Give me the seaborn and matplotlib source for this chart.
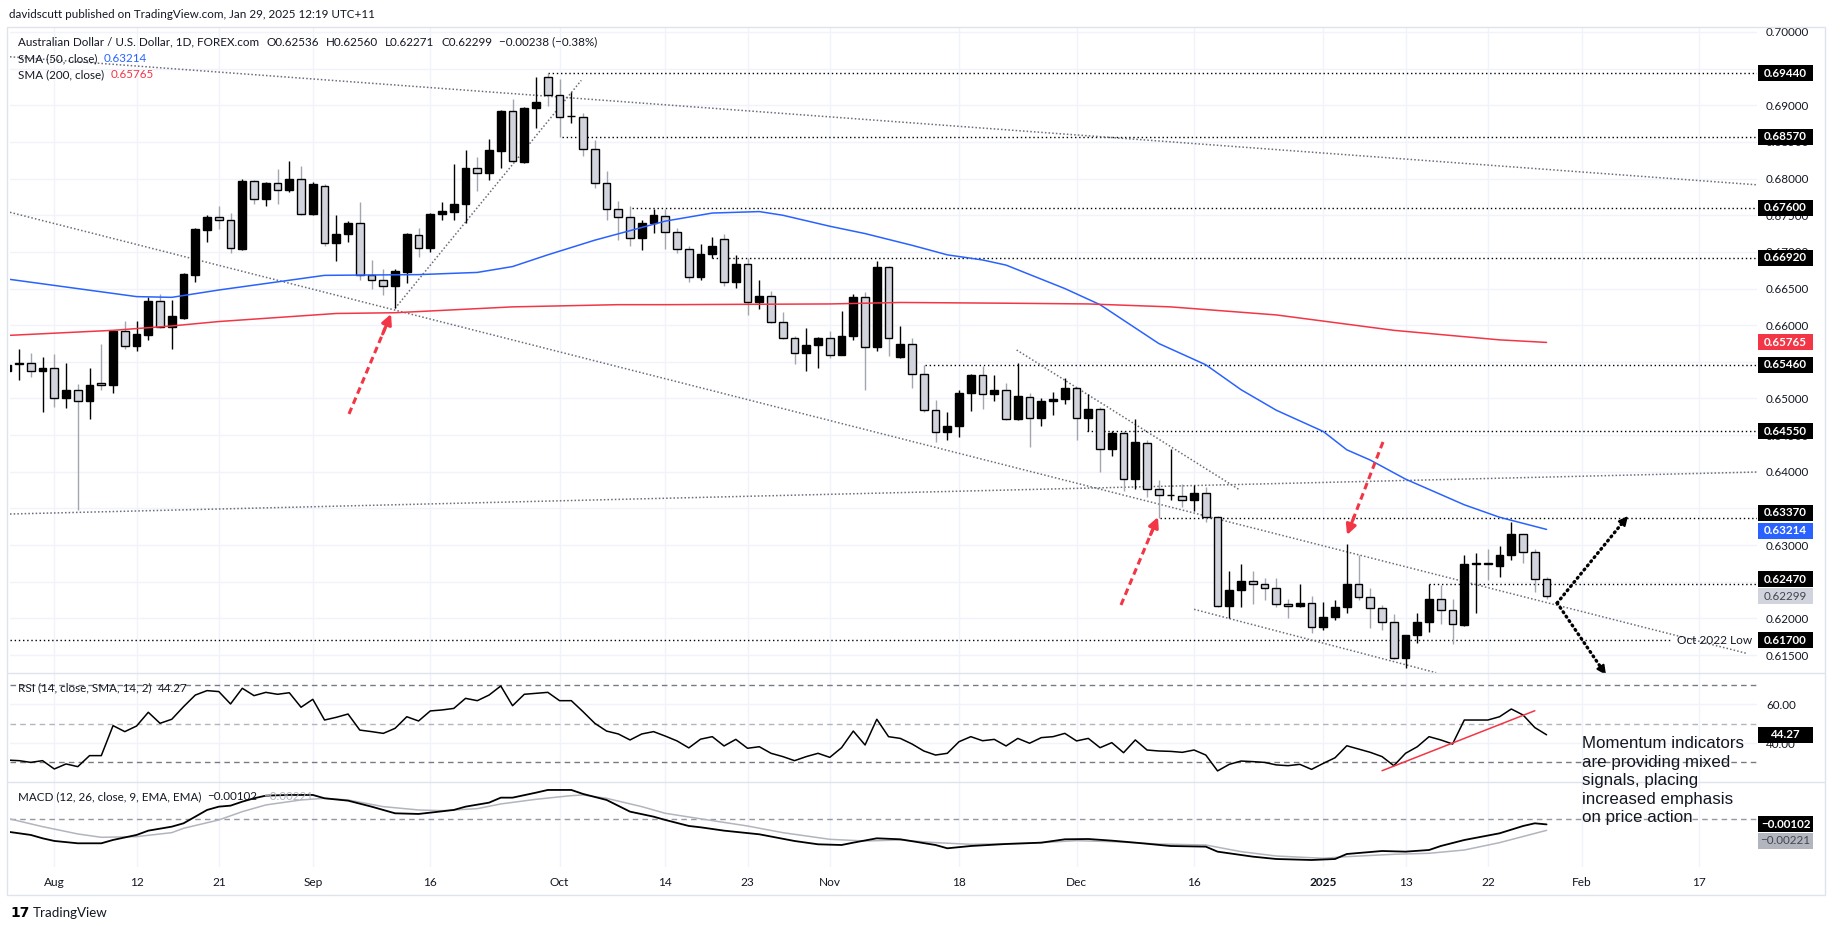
import numpy as np
import pandas as pd
import matplotlib
matplotlib.use("Agg")
import matplotlib.pyplot as plt
import seaborn as sns
from matplotlib.patches import Rectangle
from matplotlib.lines import Line2D
from matplotlib.ticker import FormatStrFormatter

# ---------------- data ----------------
first_day, last_day, axis_end = "2024-07-26", "2025-01-29", "2025-03-07"
holidays = ["2024-12-25", "2025-01-01"]

opens = [
    0.6537, 0.6547, 0.6548, 0.6537, 0.6541, 0.6500, 0.6511, 0.6496, 0.6521, 0.6518,
    0.6592, 0.6571, 0.6587, 0.6633, 0.6597, 0.6610, 0.6668, 0.6730, 0.6747, 0.6743,
    0.6704, 0.6797, 0.6772, 0.6794, 0.6785, 0.6799, 0.6752, 0.6790, 0.6712, 0.6724,
    0.6740, 0.6669, 0.6662, 0.6653, 0.6673, 0.6723, 0.6705, 0.6752, 0.6754, 0.6765,
    0.6815, 0.6807, 0.6838, 0.6892, 0.6823, 0.6896, 0.6938, 0.6914, 0.6885, 0.6884,
    0.6840, 0.6794, 0.6758, 0.6747, 0.6719, 0.6740, 0.6749, 0.6727, 0.6704, 0.6666,
    0.6697, 0.6718, 0.6659, 0.6683, 0.6632, 0.6640, 0.6604, 0.6582, 0.6562, 0.6573,
    0.6582, 0.6559, 0.6585, 0.6638, 0.6570, 0.6680, 0.6557, 0.6574, 0.6533, 0.6484,
    0.6454, 0.6462, 0.6508, 0.6532, 0.6506, 0.6512, 0.6472, 0.6502, 0.6474, 0.6497,
    0.6499, 0.6514, 0.6474, 0.6486, 0.6431, 0.6453, 0.6390, 0.6439, 0.6377, 0.6368,
    0.6367, 0.6362, 0.6371, 0.6338, 0.6217, 0.6239, 0.6251, 0.6247, 0.6241, 0.6220,
    0.6217, 0.6221, 0.6188, 0.6202, 0.6215, 0.6247, 0.6229, 0.6214, 0.6195, 0.6146,
    0.6177, 0.6195, 0.6226, 0.6212, 0.6191, 0.6274, 0.6275, 0.6272, 0.6286, 0.6315,
    0.6291, 0.62536]
highs = [
    0.6552, 0.6568, 0.6562, 0.6556, 0.6561, 0.6548, 0.6520, 0.6541, 0.6575, 0.6594,
    0.6606, 0.6606, 0.6639, 0.6642, 0.6634, 0.6671, 0.6733, 0.6750, 0.6762, 0.6753,
    0.6799, 0.6798, 0.6796, 0.6813, 0.6824, 0.6817, 0.6796, 0.6793, 0.6750, 0.6742,
    0.6768, 0.6689, 0.6676, 0.6676, 0.6726, 0.6733, 0.6753, 0.6768, 0.6820, 0.6839,
    0.6829, 0.6854, 0.6894, 0.6908, 0.6897, 0.6939, 0.6944, 0.6936, 0.6918, 0.6889,
    0.6853, 0.6810, 0.6769, 0.6762, 0.6744, 0.6759, 0.6759, 0.6732, 0.6708, 0.6711,
    0.6720, 0.6724, 0.6696, 0.6691, 0.6662, 0.6647, 0.6618, 0.6585, 0.6596, 0.6584,
    0.6592, 0.6620, 0.6642, 0.6645, 0.6688, 0.6681, 0.6599, 0.6583, 0.6546, 0.6498,
    0.6481, 0.6512, 0.6534, 0.6545, 0.6532, 0.6521, 0.6549, 0.6508, 0.6500, 0.6509,
    0.6528, 0.6516, 0.6506, 0.6488, 0.6455, 0.6455, 0.6472, 0.6443, 0.6389, 0.6431,
    0.6384, 0.6382, 0.6379, 0.6340, 0.6264, 0.6274, 0.6265, 0.6255, 0.6255, 0.6227,
    0.6247, 0.6231, 0.6223, 0.6225, 0.6301, 0.6287, 0.6241, 0.6218, 0.6206, 0.6177,
    0.6207, 0.6247, 0.6246, 0.6226, 0.6286, 0.6289, 0.6295, 0.6299, 0.6331, 0.6315,
    0.6294, 0.62560]
lows = [
    0.6530, 0.6525, 0.6530, 0.6481, 0.6489, 0.6487, 0.6348, 0.6472, 0.6512, 0.6508,
    0.6568, 0.6565, 0.6580, 0.6596, 0.6568, 0.6608, 0.6659, 0.6714, 0.6731, 0.6698,
    0.6702, 0.6766, 0.6763, 0.6766, 0.6782, 0.6751, 0.6750, 0.6708, 0.6687, 0.6714,
    0.6661, 0.6649, 0.6641, 0.6623, 0.6658, 0.6693, 0.6700, 0.6744, 0.6743, 0.6739,
    0.6783, 0.6798, 0.6815, 0.6822, 0.6821, 0.6869, 0.6899, 0.6857, 0.6876, 0.6831,
    0.6787, 0.6744, 0.6716, 0.6708, 0.6702, 0.6726, 0.6704, 0.6699, 0.6659, 0.6661,
    0.6691, 0.6654, 0.6651, 0.6614, 0.6622, 0.6603, 0.6581, 0.6547, 0.6538, 0.6541,
    0.6555, 0.6559, 0.6580, 0.6512, 0.6565, 0.6558, 0.6555, 0.6515, 0.6481, 0.6441,
    0.6444, 0.6448, 0.6483, 0.6485, 0.6497, 0.6471, 0.6471, 0.6434, 0.6462, 0.6478,
    0.6492, 0.6443, 0.6455, 0.6400, 0.6422, 0.6374, 0.6377, 0.6366, 0.6337, 0.6362,
    0.6352, 0.6346, 0.6332, 0.6215, 0.6200, 0.6215, 0.6220, 0.6225, 0.6216, 0.6201,
    0.6216, 0.6180, 0.6184, 0.6198, 0.6208, 0.6225, 0.6187, 0.6184, 0.6144, 0.6132,
    0.6166, 0.6182, 0.6192, 0.6165, 0.6190, 0.6208, 0.6252, 0.6256, 0.6279, 0.6275,
    0.6236, 0.62271]
closes = [
    0.6546, 0.6549, 0.6537, 0.6541, 0.6500, 0.6511, 0.6497, 0.6519, 0.6519, 0.6592,
    0.6571, 0.6588, 0.6633, 0.6597, 0.6612, 0.6670, 0.6731, 0.6747, 0.6743, 0.6705,
    0.6797, 0.6772, 0.6794, 0.6785, 0.6799, 0.6752, 0.6793, 0.6712, 0.6724, 0.6740,
    0.6669, 0.6662, 0.6653, 0.6674, 0.6724, 0.6705, 0.6752, 0.6756, 0.6765, 0.6815,
    0.6807, 0.6839, 0.6892, 0.6824, 0.6896, 0.6904, 0.6914, 0.6884, 0.6886, 0.6840,
    0.6794, 0.6758, 0.6747, 0.6719, 0.6740, 0.6750, 0.6727, 0.6704, 0.6666, 0.6697,
    0.6708, 0.6659, 0.6683, 0.6632, 0.6640, 0.6604, 0.6582, 0.6562, 0.6573, 0.6582,
    0.6559, 0.6585, 0.6638, 0.6570, 0.6680, 0.6583, 0.6574, 0.6533, 0.6484, 0.6454,
    0.6463, 0.6508, 0.6532, 0.6506, 0.6512, 0.6472, 0.6503, 0.6474, 0.6497, 0.6499,
    0.6514, 0.6474, 0.6486, 0.6431, 0.6453, 0.6390, 0.6440, 0.6377, 0.6368, 0.6369,
    0.6362, 0.6371, 0.6338, 0.6217, 0.6239, 0.6251, 0.6247, 0.6241, 0.6220, 0.6217,
    0.6221, 0.6188, 0.6202, 0.6215, 0.6247, 0.6229, 0.6214, 0.6195, 0.6146, 0.6177,
    0.6195, 0.6226, 0.6212, 0.6192, 0.6274, 0.6275, 0.6274, 0.6286, 0.6315, 0.6291,
    0.6254, 0.62299]

rsi = [
    31.2, 30.9, 30.0, 30.9, 26.6, 29.2, 27.8, 33.5, 33.5, 49.0,
    45.9, 48.8, 55.9, 50.2, 52.3, 58.8, 64.8, 67.1, 66.6, 60.2,
    68.3, 64.5, 66.2, 65.2, 66.0, 58.5, 62.6, 51.9, 53.3, 55.0,
    46.7, 45.9, 45.0, 47.6, 53.6, 51.4, 56.6, 57.1, 57.9, 63.1,
    61.9, 64.8, 69.5, 59.3, 65.2, 65.7, 66.2, 61.9, 61.9, 56.2,
    50.2, 46.2, 44.7, 41.6, 44.7, 45.9, 43.6, 41.1, 37.5, 42.0,
    43.3, 38.5, 41.9, 37.3, 38.1, 34.7, 33.0, 30.9, 33.0, 34.7,
    32.6, 37.6, 46.2, 39.0, 52.3, 43.3, 42.4, 39.5, 35.9, 33.8,
    34.7, 40.7, 43.3, 41.2, 41.9, 38.5, 42.4, 39.9, 42.8, 43.3,
    45.0, 41.1, 42.4, 37.6, 40.2, 35.0, 41.6, 36.4, 35.9, 35.7,
    35.2, 36.4, 33.8, 25.6, 29.0, 30.7, 30.4, 30.0, 28.7, 28.3,
    29.0, 26.4, 29.5, 32.4, 38.6, 36.9, 35.2, 33.0, 28.3, 34.7,
    38.1, 43.3, 41.6, 39.5, 51.9, 51.9, 51.9, 53.6, 57.6, 54.5,
    48.0, 44.27]

sma50_bar = [0, 11, 14, 18, 27, 35, 40, 43, 46, 50, 56, 60, 64, 66, 70, 73, 77, 80, 83,
             85, 90, 93, 98, 102, 105, 108, 112, 114, 116, 119, 124, 127, 131]
sma50_val = [0.6663, 0.6639, 0.6638, 0.6648, 0.6668, 0.6669, 0.6672, 0.6680, 0.6696,
             0.6716, 0.6742, 0.6753, 0.6755, 0.6750, 0.6735, 0.6725, 0.6709, 0.6696,
             0.6689, 0.6682, 0.6650, 0.6628, 0.6575, 0.6546, 0.6512, 0.6484, 0.6455,
             0.6430, 0.6416, 0.6390, 0.6355, 0.6338, 0.63214]
sma200_bar = [0, 9, 14, 18, 28, 33, 43, 52, 56, 70, 76, 85, 92, 99, 108, 118, 127, 131]
sma200_val = [0.6586, 0.6593, 0.6599, 0.6605, 0.6616, 0.6617, 0.6625, 0.6628, 0.6628,
              0.6629, 0.6631, 0.6630, 0.6629, 0.6625, 0.6614, 0.6593, 0.6580, 0.65765]

macd_bar = [0, 2, 3, 4, 6, 8, 9, 11, 12, 14, 15, 16, 17, 18, 19, 20, 21, 22, 24, 26, 27,
            29, 31, 33, 35, 36, 38, 39, 41, 42, 43, 45, 46, 48, 49, 51, 53, 55, 56, 58,
            59, 61, 64, 67, 69, 71, 72, 74, 76, 79, 80, 82, 85, 88, 90, 92, 94, 96, 99,
            102, 103, 106, 108, 111, 113, 114, 117, 119, 121, 122, 124, 127, 129, 130, 131]
macd_val = [-0.00247, -0.00313, -0.00380, -0.00433, -0.00480, -0.00480, -0.00413,
            -0.00313, -0.00227, -0.00147, -0.00080, 0.00053, 0.00187, 0.00253, 0.00273,
            0.00353, 0.00420, 0.00473, 0.00487, 0.00487, 0.00420, 0.00373, 0.00253,
            0.00120, 0.00107, 0.00133, 0.00187, 0.00253, 0.00333, 0.00433, 0.00433,
            0.00533, 0.00587, 0.00587, 0.00507, 0.00387, 0.00153, 0.00053, -0.00013,
            -0.00133, -0.00160, -0.00227, -0.00300, -0.00434, -0.00500, -0.00514,
            -0.00467, -0.00380, -0.00400, -0.00514, -0.00580, -0.00534, -0.00494,
            -0.00467, -0.00400, -0.00394, -0.00427, -0.00467, -0.00534, -0.00547,
            -0.00647, -0.00747, -0.00794, -0.00814, -0.00794, -0.00694, -0.00634,
            -0.00647, -0.00614, -0.00534, -0.00414, -0.00280, -0.00134, -0.00080, -0.00102]
signal_bar = [0, 3, 6, 8, 11, 14, 15, 18, 20, 22, 25, 27, 29, 32, 35, 37, 40, 42, 45, 48,
              49, 51, 54, 56, 59, 63, 66, 70, 73, 76, 79, 82, 87, 91, 94, 98, 102, 105,
              108, 112, 114, 118, 121, 124, 127, 131]
signal_val = [0.00020, -0.00147, -0.00293, -0.00360, -0.00347, -0.00267, -0.00180,
              -0.00013, 0.00153, 0.00287, 0.00387, 0.00420, 0.00387, 0.00253, 0.00187,
              0.00173, 0.00213, 0.00307, 0.00400, 0.00473, 0.00487, 0.00420, 0.00253,
              0.00120, 0.00010, -0.00134, -0.00267, -0.00400, -0.00434, -0.00414,
              -0.00467, -0.00500, -0.00480, -0.00427, -0.00447, -0.00494, -0.00514,
              -0.00647, -0.00734, -0.00780, -0.00747, -0.00700, -0.00680, -0.00614,
              -0.00467, -0.00221]

tick_dates = ["2024-08-01", "2024-08-12", "2024-08-21", "2024-09-02", "2024-09-16",
              "2024-10-01", "2024-10-14", "2024-10-23", "2024-11-01", "2024-11-18",
              "2024-12-02", "2024-12-16", "2025-01-02", "2025-01-13", "2025-01-22",
              "2025-02-03", "2025-02-17"]
tick_labels = ["Aug", "12", "21", "Sep", "16", "Oct", "14", "23", "Nov", "18", "Dec",
               "16", "2025", "13", "22", "Feb", "17"]

# horizontal levels drawn on the chart (price, first bar, last bar)
level_price = [0.6944, 0.6857, 0.6760, 0.6692, 0.6546, 0.6455, 0.6337, 0.6247, 0.6170]
level_from = [46.0, 47.2, 53.2, 60.0, 78.1, 91.9, 98.1, 121.0, 0.23]
level_to = [148.91] * 8 + [141.5]

# trend lines (bar0, price0, bar1, price1)
trend_lines = [
    (0.23, 0.69662, 148.91, 0.67915),
    (0.23, 0.67540, 148.0, 0.61524),
    (33.0, 0.6623, 48.85, 0.6934),
    (85.9, 0.65662, 104.8, 0.63761),
    (0.23, 0.63424, 148.91, 0.63997),
    (101.0, 0.62124, 121.6, 0.61259),
]
# red dashed arrows (tail bar, tail price, tip bar, tip price)
red_arrows = [
    (29.08, 0.64789, 32.66, 0.66153),
    (94.78, 0.62183, 97.93, 0.63383),
    (117.08, 0.64407, 114.02, 0.63138),
]
# black dotted scenario arrows
black_arrows = [
    (131.9, 0.62210, 137.93, 0.63397),
    (131.9, 0.62210, 136.06, 0.61228),
]
rsi_trend = (117.0, 25.7, 130.0, 56.7)

# ---------------- style ----------------
sns.set_theme(style="white")
plt.rcParams["font.family"] = ["Lato", "DejaVu Sans"]
plt.rcParams["axes.facecolor"] = "white"

TXT = "#131722"
GRID = "#f0f3fa"
BORDER = "#e0e3eb"
UP_FILL, DN_FILL = "#000000", "#d1d4dc"
DN_WICK = "#a3a6af"
BLUE, RED, GREY = "#2962ff", "#f23645", "#b2b5be"

W, H = 1835, 931
fig = plt.figure(figsize=(W / 100, H / 100), dpi=100, facecolor="white")


def fx(px):
    return px / W


def fy(py):
    return 1 - py / H


L, R = 10, 1757
ax_p = fig.add_axes([fx(L), fy(673), (R - L) / W, (673 - 27) / H])
ax_r = fig.add_axes([fx(L), fy(782), (R - L) / W, (782 - 673) / H], sharex=ax_p)
ax_m = fig.add_axes([fx(L), fy(867), (R - L) / W, (867 - 782) / H], sharex=ax_p)

cal = pd.bdate_range(first_day, axis_end)
cal = cal[~cal.isin(pd.to_datetime(holidays))]
pos = {d: i for i, d in enumerate(cal)}
n = pos[pd.Timestamp(last_day)] + 1
x = np.arange(n)
tick_pos = [pos[pd.Timestamp(d)] for d in tick_dates]

o = np.array(opens); h = np.array(highs); l = np.array(lows); c = np.array(closes)
assert len(o) == n and len(h) == n and len(l) == n and len(c) == n and len(rsi) == n

for ax in (ax_p, ax_r, ax_m):
    for s in ax.spines.values():
        s.set_visible(False)
    ax.set_xlim(0.23, 148.91)
    for t in tick_pos:
        ax.axvline(t, color=GRID, lw=1.0, zorder=0)
    ax.tick_params(axis="both", length=0)
    ax.yaxis.tick_right()
    ax.tick_params(axis="y", pad=6.5, labelsize=8.4, labelcolor=TXT)

# ---------------- price pane ----------------
ax_p.set_ylim(0.612551, 0.700682)
price_ticks = np.arange(0.615, 0.7001, 0.005)
ax_p.set_yticks(price_ticks)
ax_p.yaxis.set_major_formatter(FormatStrFormatter("%.5f"))
for p in price_ticks:
    ax_p.axhline(p, color=GRID, lw=1.0, zorder=0)
ax_p.tick_params(axis="x", labelbottom=False)

up = c >= o
bot = np.minimum(o, c)
top = np.maximum(o, c)
hgt = np.maximum(top - bot, 0.00002)
ax_p.vlines(x[up], np.minimum(l, bot)[up], np.maximum(h, top)[up], color="#000000", lw=1.0, zorder=3)
ax_p.vlines(x[~up], np.minimum(l, bot)[~up], np.maximum(h, top)[~up], color=DN_WICK, lw=1.0, zorder=3)
ax_p.bar(x, hgt, bottom=bot, width=0.66, color=np.where(up, UP_FILL, DN_FILL),
         edgecolor="#000000", linewidth=1.0, zorder=4)

sns.lineplot(x=sma50_bar, y=sma50_val, ax=ax_p, color=BLUE, lw=1.1, zorder=5, legend=False)
sns.lineplot(x=sma200_bar, y=sma200_val, ax=ax_p, color=RED, lw=1.1, zorder=5, legend=False)
ax_p.set_xlabel(""); ax_p.set_ylabel("")

for p, a, b in zip(level_price, level_from, level_to):
    ax_p.plot([a, b], [p, p], color="#000000", lw=1.0, ls=(0, (1, 2)), zorder=2)

for (a0, p0, a1, p1) in trend_lines:
    ax_p.plot([a0, a1], [p0, p1], color="#6a6d78", lw=1.1, ls=(0, (1, 1.4)), zorder=2)

for (a0, p0, a1, p1) in red_arrows:
    fr = 0.86
    ax_p.plot([a0, a0 + (a1 - a0) * fr], [p0, p0 + (p1 - p0) * fr], color=RED, lw=2.2,
              ls=(0, (2.2, 1.4)), zorder=6, solid_capstyle="butt")
    ax_p.annotate("", xy=(a1, p1), xytext=(a0 + (a1 - a0) * 0.8, p0 + (p1 - p0) * 0.8),
                  arrowprops=dict(arrowstyle="-|>,head_length=0.5,head_width=0.25",
                                  color=RED, lw=2.2, shrinkA=0, shrinkB=0), zorder=6)

for (a0, p0, a1, p1) in black_arrows:
    ax_p.plot([a0, a0 + (a1 - a0) * 0.93], [p0, p0 + (p1 - p0) * 0.93], color="#000000",
              lw=2.4, ls=(0, (0.3, 1.3)), dash_capstyle="round", zorder=6, clip_on=False)
    ax_p.annotate("", xy=(a1, p1), xytext=(a0 + (a1 - a0) * 0.9, p0 + (p1 - p0) * 0.9),
                  arrowprops=dict(arrowstyle="-|>,head_length=0.45,head_width=0.22",
                                  color="#000000", lw=1.5, shrinkA=0, shrinkB=0),
                  zorder=6, annotation_clip=False)

# ---------------- RSI pane ----------------
ax_r.set_ylim(19.87, 76.2)
ax_r.set_yticks([40, 60])
ax_r.set_yticklabels(["40.00", "60.00"])
ax_r.tick_params(axis="x", labelbottom=False)
for v in (40, 60):
    ax_r.axhline(v, color=GRID, lw=1.0, zorder=0)
ax_r.axhline(70, color="#787b86", lw=1.0, ls=(0, (4, 3)), zorder=1)
ax_r.axhline(50, color="#b2b5be", lw=1.0, ls=(0, (4, 3)), zorder=1)
ax_r.axhline(30, color="#787b86", lw=1.0, ls=(0, (4, 3)), zorder=1)
sns.lineplot(x=x, y=rsi, ax=ax_r, color="#000000", lw=1.1, zorder=3, legend=False)
ax_r.plot([rsi_trend[0], rsi_trend[2]], [rsi_trend[1], rsi_trend[3]], color=RED, lw=1.1, zorder=4)
ax_r.set_xlabel(""); ax_r.set_ylabel("")

# ---------------- MACD pane ----------------
ax_m.set_ylim(-0.00954, 0.00746)
ax_m.set_yticks([0.0])
ax_m.set_yticklabels(["0.00000"])
ax_m.axhline(0, color="#9598a1", lw=1.0, ls=(0, (4, 3)), zorder=1)
sns.lineplot(x=signal_bar, y=signal_val, ax=ax_m, color=GREY, lw=1.1, zorder=3, legend=False)
sns.lineplot(x=macd_bar, y=macd_val, ax=ax_m, color="#000000", lw=1.3, zorder=4, legend=False)
ax_m.set_xlabel(""); ax_m.set_ylabel("")
ax_m.set_xticks(tick_pos)
ax_m.set_xticklabels(tick_labels)
ax_m.tick_params(axis="x", pad=7.5, labelsize=8.6, labelcolor=TXT)
for lab in ax_m.get_xticklabels():
    if lab.get_text() == "2025":
        lab.set_fontweight("bold")

# ---------------- frame & separators ----------------
fig.add_artist(Rectangle((fx(7), fy(895)), (1825 - 7) / W, (895 - 27) / H,
                         transform=fig.transFigure, fill=False, ec=BORDER, lw=1.0, zorder=1))
for yy in (673, 782):
    fig.add_artist(Line2D([fx(7), fx(1825)], [fy(yy), fy(yy)], transform=fig.transFigure,
                          color=BORDER, lw=1.0, zorder=1))

# ---------------- texts ----------------
renderer = fig.canvas.get_renderer()


def chain(x0, y0, parts, size=8.4, gap=4):
    xx = x0
    for s, col in parts:
        t = fig.text(fx(xx), fy(y0), s, color=col, fontsize=size, va="center", ha="left", zorder=15)
        xx += t.get_window_extent(renderer).width + gap


chain(9, 15, [("davidscutt published on TradingView.com, Jan 29, 2025 12:19 UTC+11", TXT)])
chain(18, 42, [("Australian Dollar / U.S. Dollar, 1D, FOREX.com", TXT), ("O0.62536", TXT),
               ("H0.62560", TXT), ("L0.62271", TXT), ("C0.62299", TXT),
               ("\u22120.00238 (\u22120.38%)", TXT)], gap=7)
chain(18, 58.5, [("SMA (50, close)", TXT), ("0.63214", BLUE)], gap=6)
chain(18, 75, [("SMA (200, close)", TXT), ("0.65765", RED)], gap=6)
chain(18, 688, [("RSI (14, close, SMA, 14, 2)", TXT), ("44.27", TXT)], gap=6)
chain(18, 797, [("MACD (12, 26, close, 9, EMA, EMA)", TXT), ("\u22120.00102", TXT),
                ("\u22120.00221", GREY)], gap=6)

fig.text(fx(1677), fy(641), "Oct 2022 Low", color=TXT, fontsize=8.6, va="center", ha="left", zorder=15)
fig.text(fx(1582), fy(736), "Momentum indicators\nare providing mixed\nsignals, placing\n"
         "increased emphasis\non price action", color=TXT, fontsize=12.2,
         family=["Liberation Sans", "DejaVu Sans"], va="top", ha="left", linespacing=1.3, zorder=15)

fig.text(fx(10), fy(913), "17", color="#000000", fontsize=10, fontweight="bold", va="center",
         family=["DejaVu Sans"], zorder=15)
fig.text(fx(33), fy(913), "TradingView", color=TXT, fontsize=9.6, va="center", zorder=15)


# ---------------- right-axis value tags ----------------
def tag(ax, value, text, fc, tc, shift=0.0, bold=True):
    y_disp = ax.transData.transform((1.0, value))[1] + shift
    fig.add_artist(Rectangle((fx(1758), (y_disp - 8) / H), 55 / W, 16 / H,
                             transform=fig.transFigure, fc=fc, ec="none", zorder=20))
    fig.text(fx(1785.5), y_disp / H, text, ha="center", va="center", color=tc, fontsize=8.4,
             fontweight="bold" if bold else "normal", zorder=21)


tag_shift = {0.6337: 5.0, 0.6247: 4.7}
for p in level_price:
    tag(ax_p, p, f"{p:.5f}", "#000000", "#ffffff", shift=tag_shift.get(p, 0.0))
tag(ax_p, sma200_val[-1], f"{sma200_val[-1]:.5f}", RED, "#ffffff")
tag(ax_p, sma50_val[-1], f"{sma50_val[-1]:.5f}", BLUE, "#ffffff", shift=-1.3)
tag(ax_p, closes[-1], f"{closes[-1]:.5f}", DN_FILL, "#434651", bold=False)
tag(ax_r, rsi[-1], f"{rsi[-1]:.2f}", "#000000", "#ffffff")
tag(ax_m, macd_val[-1], f"\u2212{abs(macd_val[-1]):.5f}", "#000000", "#ffffff")
tag(ax_m, signal_val[-1], f"\u2212{abs(signal_val[-1]):.5f}", GREY, "#434651", shift=-10.4, bold=False)

fig.savefig("out.png", dpi=100, facecolor="white")
